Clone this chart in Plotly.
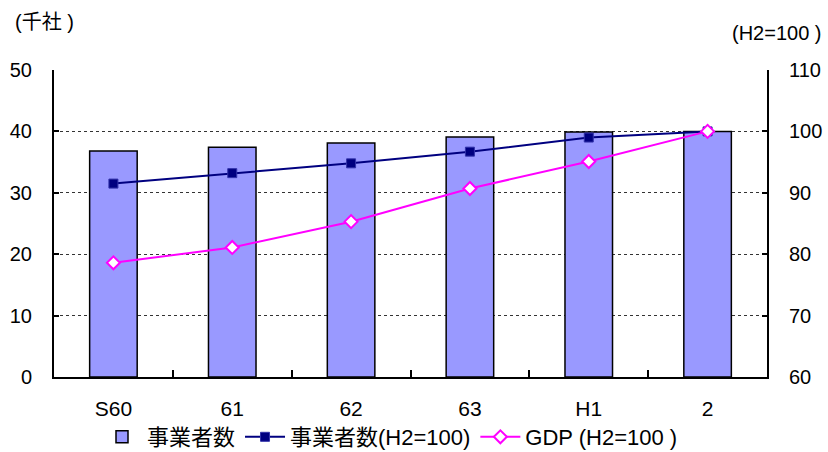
import plotly.graph_objects as go

# Fiscal years and series
years = ["S60", "61", "62", "63", "H1", "2"]
companies = [36.8, 37.4, 38.1, 39.1, 39.9, 40.0]          # 事業者数 (千社)
company_index = [91.5, 93.2, 94.8, 96.7, 99.0, 100.0]     # 事業者数 (H2=100)
gdp_index = [78.6, 81.1, 85.3, 90.7, 95.1, 100.0]         # GDP (H2=100)

FONT = "Arial, 'Liberation Sans', 'Noto Sans CJK JP', sans-serif"

ML, MR, MT, MB = 54, 61, 70, 75
W, H = 828, 452

fig = go.Figure()

fig.add_trace(go.Bar(
    x=years, y=companies, name="事業者数",
    marker=dict(color="#9999FF", line=dict(color="black", width=1.5)),
    width=0.40, yaxis="y",
))
fig.add_trace(go.Scatter(
    x=years, y=company_index, name="事業者数(H2=100)", yaxis="y2",
    mode="lines+markers",
    line=dict(color="#000080", width=2),
    marker=dict(symbol="square", size=9, color="#000080",
                line=dict(color="#3333AA", width=1)),
))
fig.add_trace(go.Scatter(
    x=years, y=gdp_index, name="GDP (H2=100 )", yaxis="y2",
    mode="lines+markers",
    line=dict(color="#FF00FF", width=2),
    marker=dict(symbol="diamond", size=10, color="white",
                line=dict(color="#FF00FF", width=2)),
))


def px_x(x):
    return (x - ML) / (W - ML - MR)


def px_y(y):
    return 1 - (y - MT) / (H - MT - MB)


fig.update_layout(
    width=W, height=H,
    margin=dict(l=ML, r=MR, t=MT, b=MB, autoexpand=False),
    paper_bgcolor="white", plot_bgcolor="white",
    font=dict(family=FONT, size=20, color="black"),
    showlegend=True,
    legend=dict(orientation="h", x=px_x(390), xanchor="center",
                y=px_y(437), yanchor="middle",
                font=dict(size=22), traceorder="normal", itemwidth=40,
                tracegroupgap=0, bgcolor="rgba(0,0,0,0)"),
    xaxis=dict(
        type="category", tickson="boundaries", ticks="inside", ticklen=7,
        tickcolor="black", tickwidth=2, automargin=False,
        showline=True, linecolor="black", linewidth=2,
        showgrid=False, tickfont=dict(size=21), ticklabelstandoff=12,
    ),
    yaxis=dict(
        range=[0, 50], dtick=10, tick0=0, automargin=False,
        showline=True, linecolor="black", linewidth=2,
        ticks="inside", ticklen=5, tickcolor="black", tickwidth=2,
        showgrid=True, gridcolor="#333333", gridwidth=1, griddash="dot",
        zeroline=False, tickfont=dict(size=20), ticklabelstandoff=16,
    ),
    yaxis2=dict(
        range=[60, 110], dtick=10, tick0=60, overlaying="y", side="right",
        automargin=False,
        showline=True, linecolor="black", linewidth=2,
        ticks="inside", ticklen=5, tickcolor="black", tickwidth=2,
        showgrid=False, zeroline=False, tickfont=dict(size=20),
        ticklabelstandoff=16,
    ),
    annotations=[
        dict(text="(千社 )", x=px_x(13), y=px_y(22), xref="paper", yref="paper",
             showarrow=False, font=dict(size=20), xanchor="left", yanchor="middle"),
        dict(text="(H2=100 )", x=px_x(824), y=px_y(33), xref="paper", yref="paper",
             showarrow=False, font=dict(size=20), xanchor="right", yanchor="middle"),
    ],
)

fig.write_html("out.html")
